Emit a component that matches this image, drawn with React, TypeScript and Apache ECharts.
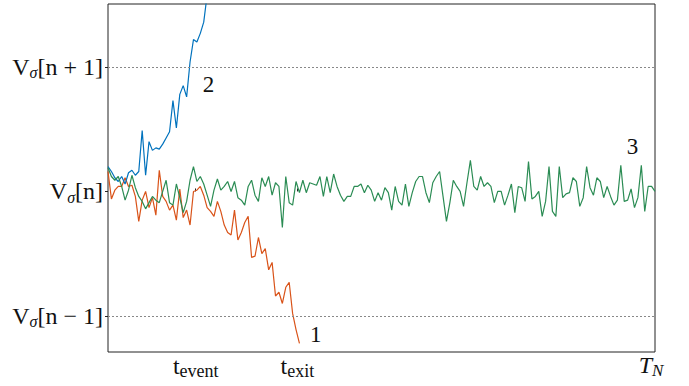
import { useEffect, useRef } from 'react';
import * as echarts from 'echarts';

const T_N = 160;
const xTickValues = [25.65, 55.37, 160];
const xTickNames = ['event', 'exit', 'N'];
const yTickValues = [-1, 0, 1];
const yTickNames = ['[n \u2212 1]', '[n]', '[n + 1]'];
const dashedLevels = [1, -1];

// curve 1 (orange): drifts down and leaves through V[n-1]
const curve1 = [
  0.16, -0.06, 0.01, 0.04, 0.04, 0.11, 0.04, 0.05, -0.04, -0.24,
  -0.07, 0.0, -0.13, -0.05, -0.19, 0.17, -0.04, -0.08, -0.15, -0.11,
  -0.23, 0.02, -0.21, -0.15, -0.27, 0.0, 0.01, 0.04, -0.03, -0.13,
  -0.16, -0.2, -0.08, -0.16, -0.27, -0.33, -0.35, -0.15, -0.39, -0.33,
  -0.25, -0.2, -0.53, -0.52, -0.37, -0.5, -0.46, -0.63, -0.57, -0.84,
  -0.81, -0.9, -0.77, -0.73, -0.98, -1.11, -1.22,
];

// curve 2 (blue): rises through V[n+1]
const curve2 = [
  0.2, 0.16, 0.11, 0.08, 0.12, 0.06, 0.15, 0.17, 0.13, 0.16,
  0.49, 0.13, 0.4, 0.33, 0.35, 0.34, 0.38, 0.43, 0.48, 0.73,
  0.51, 0.78, 0.85, 0.76, 1.04, 1.22, 1.2, 1.27, 1.36, 1.58,
];

// curve 3 (green): stays around V[n] up to T_N
const curve3 = [
  0.19, 0.12, 0.09, 0.12, 0.04, -0.07, 0.01, 0.13, 0.03, -0.04,
  -0.08, -0.14, -0.09, -0.04, -0.07, -0.09, 0.0, 0.09, -0.09, -0.11,
  0.06, -0.05, -0.17, -0.08, 0.09, 0.2, 0.08, 0.12, 0.06, -0.03,
  -0.12, 0.01, 0.1, 0.01, 0.04, 0.08, 0.0, 0.08, -0.05, -0.07,
  -0.11, 0.04, 0.09, -0.03, -0.08, 0.11, 0.04, 0.12, -0.03, 0.07,
  0.04, -0.29, 0.12, -0.09, -0.11, 0.08, -0.01, 0.09, -0.01, 0.07,
  0.06, 0.05, 0.12, -0.04, 0.12, -0.01, 0.14, 0.04, -0.03, -0.08,
  -0.04, -0.04, 0.04, 0.04, 0.06, -0.01, 0.05, 0.01, -0.08, -0.01,
  -0.07, 0.03, -0.01, -0.15, 0.04, -0.08, -0.11, 0.06, -0.12, -0.01,
  0.08, 0.12, 0.12, -0.01, -0.09, 0.07, 0.12, 0.16, -0.04, -0.24,
  -0.09, 0.09, 0.04, 0.0, -0.12, 0.07, 0.25, 0.04, 0.01, 0.12,
  0.04, 0.07, 0.04, -0.09, 0.0, 0.0, -0.11, -0.03, 0.06, -0.17,
  0.04, 0.03, -0.08, 0.24, -0.06, -0.04, 0.0, -0.2, -0.08, 0.2,
  -0.16, -0.2, 0.2, -0.05, -0.02, -0.01, 0.11, 0.08, -0.12, -0.05,
  0.2, 0.03, -0.03, 0.11, 0.08, -0.05, 0.04, -0.04, -0.11, -0.07,
  0.21, -0.08, -0.07, 0.02, -0.13, -0.05, 0.21, -0.16, 0.04, 0.04,
  0.0,
];

const curveNames = ['1', '2', '3'];
const curveColors = ['#D95319', '#0072BD', '#2B8C54'];
const curveLabelX = [60.8, 29.4, 153.4];
const curveLabelY = [-1.153, 0.863, 0.365];

const SERIF = "'Liberation Serif', 'Times New Roman', serif";

export default function App() {
  const ref = useRef<HTMLDivElement>(null);
  useEffect(() => {
    if (!ref.current) return;
    const chart = echarts.init(ref.current, null, { renderer: 'svg' });
    const curves = [curve1, curve2, curve3];
    const lineSeries = curves.map((c, k) => ({
      type: 'line',
      name: curveNames[k],
      data: c.map((v, i) => [i, v]),
      showSymbol: false,
      symbol: 'none',
      clip: true,
      lineStyle: { color: curveColors[k], width: 1.2 },
      itemStyle: { color: curveColors[k] },
      markPoint: {
        symbol: 'circle',
        symbolSize: 1,
        itemStyle: { color: 'rgba(0,0,0,0)' },
        label: {
          show: true,
          position: 'inside',
          formatter: curveNames[k],
          fontFamily: SERIF,
          fontSize: 23,
          color: '#111',
        },
        data: [{ coord: [curveLabelX[k], curveLabelY[k]], name: curveNames[k] }],
      },
    }));
    const option: any = {
      animation: false,
      grid: {
        left: 108,
        right: 34,
        top: 4,
        bottom: 34,
        show: true,
        borderColor: '#222',
        borderWidth: 1,
      },
      xAxis: {
        type: 'value',
        min: 0,
        max: T_N,
        splitLine: { show: false },
        axisLine: { show: false },
        axisTick: {
          show: true,
          inside: true,
          length: 3,
          customValues: xTickValues.slice(0, 2),
          lineStyle: { color: '#222' },
        },
        axisLabel: {
          customValues: xTickValues,
          margin: 2,
          formatter: (v: number) => {
            let j = 0;
            let best = Infinity;
            xTickValues.forEach((t, i) => {
              if (Math.abs(t - v) < best) {
                best = Math.abs(t - v);
                j = i;
              }
            });
            const name = xTickNames[j];
            if (name === 'N') return '{T|T}{Ts|N}';
            return '{t|t}{ts|' + name + '}';
          },
          rich: {
            t: { fontFamily: SERIF, fontSize: 24, lineHeight: 24, color: '#111' },
            ts: { fontFamily: SERIF, fontSize: 18, lineHeight: 18, color: '#111', padding: [10, 0, 0, 0] },
            T: { fontFamily: SERIF, fontStyle: 'italic', fontSize: 24, lineHeight: 24, color: '#111', padding: [0, 0, 2, 0] },
            Ts: { fontFamily: SERIF, fontStyle: 'italic', fontSize: 17, lineHeight: 17, color: '#111', padding: [8, 8, 0, 0] },
          },
        },
      },
      yAxis: {
        type: 'value',
        min: -1.29,
        max: 1.506,
        splitLine: { show: false },
        axisLine: { show: false },
        axisTick: {
          show: true,
          inside: false,
          length: 3,
          customValues: yTickValues,
          lineStyle: { color: '#222' },
        },
        axisLabel: {
          customValues: yTickValues,
          margin: 5,
          formatter: (v: number) => {
            const j = yTickValues.findIndex((t) => Math.abs(t - v) < 1e-6);
            return '{m|V}{s|\u03c3}{m|' + yTickNames[j] + '}';
          },
          rich: {
            m: { fontFamily: SERIF, fontSize: 24, lineHeight: 24, color: '#111' },
            s: { fontFamily: SERIF, fontStyle: 'italic', fontSize: 16, lineHeight: 16, color: '#111', padding: [12, 0, 0, 0] },
          },
        },
      },
      series: [
        {
          type: 'line',
          data: [],
          silent: true,
          markLine: {
            silent: true,
            symbol: ['none', 'none'],
            label: { show: false },
            lineStyle: { type: [2, 2], color: '#888', width: 1 },
            data: dashedLevels.map((l) => ({ yAxis: l })),
          },
        },
        ...lineSeries,
      ],
    };
    chart.setOption(option);
    return () => chart.dispose();
  }, []);
  return (
    <div
      ref={ref}
      style={{ position: 'fixed', left: 0, top: 0, width: 689, height: 386, background: '#fff' }}
    />
  );
}
